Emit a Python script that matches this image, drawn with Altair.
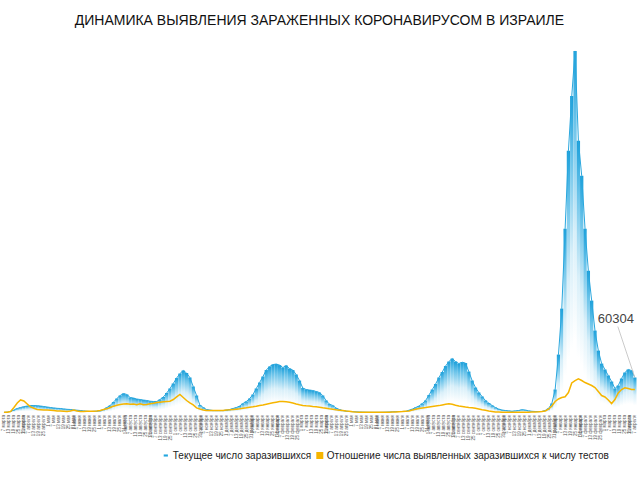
import altair as alt
import pandas as pd

# ---- data ----
start_date = "2020-03-06"
step_days = 4

cases = [
    200, 800, 1700, 4300, 6900, 8600, 10000, 11200, 12100, 12000,
    11700, 11200, 10300, 9500, 8600, 7900, 7200, 6900, 6200, 5500,
    5200, 4500, 4000, 3400, 2800, 2200, 1700, 2100, 2400, 2900,
    5200, 8600, 12100, 18100, 24100, 29300, 32700, 31000, 25800, 25000,
    23300, 22400, 21500, 20700, 19500, 19000, 19000, 22400, 26700, 33600,
    41400, 50000, 59400, 67200, 72400, 68100, 60300, 44800, 29300, 12900,
    8600, 5200, 4300, 3400, 3400, 3400, 3400, 4300, 5200, 6900,
    8600, 11200, 15500, 19000, 24100, 31000, 41400, 51700, 62000, 73200,
    79300, 82700, 83600, 81800, 77500, 81000, 75800, 73200, 65500, 55100,
    42200, 39600, 38800, 37900, 36200, 34500, 29300, 20700, 14600, 12100,
    7800, 5200, 3400, 2600, 1700, 1400, 1100, 900, 700, 500,
    400, 300, 300, 300, 400, 600, 900, 1200, 1500, 1700,
    1800, 2000, 4000, 6000, 8600, 11200, 15500, 20700, 30200, 39600,
    49100, 60300, 69800, 80100, 87900, 93000, 87900, 84400, 86700, 85300,
    70600, 55100, 43100, 34500, 27600, 20700, 16400, 12100, 8600, 6000,
    4300, 3400, 2900, 2200, 2900, 3400, 4800, 4300, 2900, 2100,
    1700, 1400, 1700, 3400, 6900, 15500, 39600, 99900, 179200, 317000,
    451400, 546200, 623700, 468700, 408400, 317000, 244700, 193000, 141300, 106800,
    84400, 74100, 63800, 53400, 41400, 46500, 58600, 68900, 74100, 72400,
    60304,
]

ratio = [
    0.3, 0.3, 0.9, 4.5, 8.6, 11.3, 10.4, 7.7, 5.1, 3.8,
    2.7, 2.5, 2.3, 2.2, 2.0, 1.7, 1.4, 1.3, 1.1, 0.9,
    1.4, 2.3, 1.4, 0.9, 0.9, 1.1, 1.2, 1.2, 1.4, 1.8,
    2.7, 3.3, 4.5, 5.7, 6.6, 7.2, 7.7, 7.8, 7.5, 7.7,
    7.0, 7.8, 6.9, 7.2, 7.8, 8.3, 9.0, 9.3, 9.6, 9.9,
    10.2, 11.7, 14.0, 16.2, 13.5, 10.8, 8.6, 6.8, 4.2, 3.2,
    2.3, 1.8, 1.8, 1.8, 1.8, 1.8, 1.8, 2.2, 2.4, 2.7,
    3.0, 3.3, 3.9, 4.3, 4.8, 5.2, 5.7, 6.3, 6.8, 7.5,
    8.1, 8.7, 9.3, 9.9, 9.9, 9.6, 9.3, 8.6, 7.7, 6.9,
    6.3, 6.0, 5.8, 5.4, 5.1, 4.8, 4.2, 3.8, 3.3, 2.9,
    2.4, 2.1, 1.8, 1.4, 1.1, 0.7, 0.4, 0.3, 0.2, 0.2,
    0.2, 0.2, 0.2, 0.2, 0.2, 0.3, 0.3, 0.4, 0.5, 0.7,
    0.8, 1.1, 1.4, 2.2, 3.0, 3.6, 4.1, 4.5, 5.0, 5.5,
    5.9, 6.2, 6.8, 7.4, 7.8, 7.4, 6.6, 5.9, 5.5, 5.0,
    4.6, 4.3, 3.8, 3.2, 2.5, 2.0, 1.4, 1.0, 0.5, 0.4,
    0.3, 0.3, 0.3, 0.3, 0.3, 0.3, 0.3, 0.3, 0.3, 0.4,
    0.5, 0.6, 0.9, 1.4, 3.0, 5.9, 9.9, 12.2, 13.5, 14.2,
    18.0, 26.6, 28.8, 30.3, 28.8, 27.0, 25.7, 24.3, 22.5, 18.9,
    15.3, 14.0, 11.3, 8.1, 11.7, 17.7, 20.7, 22.2, 21.6, 20.7,
    20.7,
]

title_text = "ДИНАМИКА ВЫЯВЛЕНИЯ ЗАРАЖЕННЫХ КОРОНАВИРУСОМ В ИЗРАИЛЕ"
series_names = [
    "Текущее число заразившихся",
    "Отношение числа выявленных заразившихся к числу тестов",
]
series_colors = ["#22a6df", "#f6b500"]
months_ru = ["января", "февраля", "марта", "апреля", "мая", "июня", "июля",
             "августа", "сентября", "октября", "ноября", "декабря"]

# ---- tables ----
dates = pd.date_range(start_date, periods=len(cases), freq=f"{step_days}D")
df = pd.DataFrame({
    "start": dates.strftime("%Y-%m-%d"),
    "end": (dates + pd.Timedelta(days=step_days)).strftime("%Y-%m-%d"),
    "mid": (dates + pd.Timedelta(days=step_days // 2)).strftime("%Y-%m-%d"),
    "cases": cases,
    "ratio": ratio,
})
ann_df = df.tail(1).assign(label=lambda d: d["cases"].astype(str))
leg_df = pd.DataFrame({"series": series_names})

FONT = "Liberation Sans"
cases_scale = alt.Scale(domain=[0, 634000], nice=False)
ratio_scale = alt.Scale(domain=[0, 331], nice=False)

month_arr = "[" + ",".join(f"'{m}'" for m in months_ru) + "]"
x_axis = alt.Axis(
    title=None, domain=False, ticks=False, grid=False,
    labelAngle=270, labelFontSize=4.5, labelColor="#555", labelFont=FONT,
    labelPadding=2, labelOverlap=False, labelFlush=False,
    tickCount={"interval": "day", "step": 6},
    labelExpr="date(datum.value) + ' ' + " + month_arr + "[month(datum.value)]",
)

grad = alt.Gradient(
    gradient="linear",
    stops=[
        alt.GradientStop(offset=0, color="#1a9fda"),
        alt.GradientStop(offset=0.2, color="#6cc4ea"),
        alt.GradientStop(offset=0.5, color="#d8eff9"),
        alt.GradientStop(offset=0.8, color="#ffffff"),
    ],
    x1=0, x2=0, y1=0, y2=1,
)

bars = alt.Chart(df).mark_bar(fill=grad).encode(
    x=alt.X("start:T", axis=x_axis, scale=alt.Scale(nice=False)),
    x2="end:T",
    y=alt.Y("cases:Q", scale=cases_scale, axis=None),
    y2=alt.datum(0),
)

edge = alt.Chart(df).mark_line(color="#29a7de", strokeWidth=1).encode(
    x="mid:T",
    y=alt.Y("cases:Q", scale=cases_scale, axis=None),
)

ratio_line = alt.Chart(df).mark_line(color=series_colors[1], strokeWidth=1.5).encode(
    x="mid:T",
    y=alt.Y("ratio:Q", scale=ratio_scale, axis=None),
)

leader = alt.Chart(ann_df).mark_rule(
    color="#c4c4c4", strokeWidth=0.9, x2Offset=-17, y2Offset=-51
).encode(
    x="mid:T", x2="mid:T",
    y=alt.Y("cases:Q", scale=cases_scale, axis=None), y2="cases:Q",
)

ann_text = alt.Chart(ann_df).mark_text(
    dx=-19, dy=-59, fontSize=13, color="#444", font=FONT
).encode(
    x="mid:T",
    y=alt.Y("cases:Q", scale=cases_scale, axis=None),
    text="label:N",
)

legend_props = dict(
    title=None, orient="none", legendX=158.5, legendY=405.5,
    direction="horizontal", labelFont=FONT, labelFontSize=10,
    labelColor="#222", labelLimit=500, symbolSize=49,
    symbolStrokeWidth=0, columnPadding=3, padding=0, labelOffset=2,
)
legend_layer = alt.Chart(leg_df).mark_point(size=0, filled=True, opacity=1).encode(
    color=alt.Color("series:N", scale=alt.Scale(domain=series_names, range=series_colors),
                    legend=alt.Legend(**legend_props)),
    shape=alt.Shape("series:N", scale=alt.Scale(domain=series_names,
                                                range=["M-0.6,-0.3H0.6V0.3H-0.6Z", "square"]),
                    legend=alt.Legend(**legend_props)),
)

chart = alt.layer(bars, edge, ratio_line, leader, ann_text, legend_layer).resolve_scale(
    y="independent"
).properties(
    width=634.2,
    height=367.5,
    autosize="none",
    padding={"left": 2.3, "top": 45, "right": 3.5, "bottom": 67.5},
    title=alt.TitleParams(text=title_text, font=FONT, fontSize=14, fontWeight="normal",
                          color="#111", anchor="middle", offset=17),
    background="white",
).configure_view(stroke=None)

chart.save("out.html", embed_options={"renderer": "svg", "actions": False})
